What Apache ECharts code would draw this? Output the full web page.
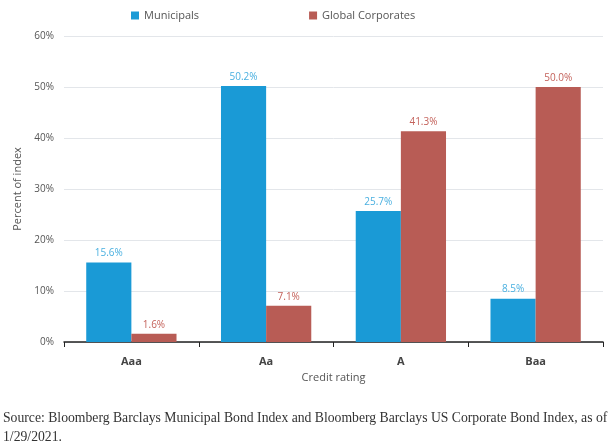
<!DOCTYPE html>
<html>
<head>
<meta charset="utf-8" />
<script src="https://cdn.jsdelivr.net/npm/echarts@6/dist/echarts.min.js"></script>
<style>
  html, body { margin: 0; padding: 0; background: #fff; }
  #main { width: 611px; height: 448px; }
</style>
</head>
<body>
<div id="main"></div>
<script type="text/javascript">
	// categories and values
	var ratings = ['Aaa', 'Aa', 'A', 'Baa'];
	var municipals = [15.6, 50.2, 25.7, 8.5];
	var corporates = [1.6, 7.1, 41.3, 50.0];
	var yTicks = [0, 10, 20, 30, 40, 50, 60];

	var blue = '#1a9ad6';
	var red = '#b85c55';

	var myChart = echarts.init(document.getElementById('main'));

	var option = {
		animation: false,
		textStyle: { fontFamily: 'Open Sans, sans-serif' },
		legend: {
			top: 5,
			left: 126,
			itemGap: 110,
			itemWidth: 8,
			itemHeight: 8,
			icon: 'rect',
			textStyle: { color: '#555', fontSize: 11 },
			data: ['Municipals', 'Global Corporates']
		},
		grid: { left: 64, right: 8, top: 36, bottom: 106 },
		xAxis: {
			type: 'category',
			data: ratings,
			name: 'Credit rating',
			nameLocation: 'middle',
			nameGap: 30,
			nameTextStyle: { color: '#555', fontSize: 11 },
			axisLine: { lineStyle: { color: '#222', width: 1.5 } },
			axisTick: { show: true, length: 5, lineStyle: { color: '#222' } },
			axisLabel: { color: '#444', fontWeight: 'bold', fontSize: 11, margin: 14 }
		},
		yAxis: {
			type: 'value',
			min: yTicks[0],
			max: yTicks[yTicks.length - 1],
			interval: 10,
			name: 'Percent of index',
			nameLocation: 'middle',
			nameGap: 38,
			nameTextStyle: { color: '#555', fontSize: 11 },
			axisLine: { show: false },
			axisTick: { show: false },
			axisLabel: { color: '#555', fontSize: 10, formatter: '{value}%', margin: 10 },
			splitLine: { lineStyle: { color: '#e3e6ea' } }
		},
		series: [{
			name: 'Municipals',
			type: 'bar',
			data: municipals,
			itemStyle: { color: blue },
			barGap: '0%',
			barCategoryGap: '33%',
			label: { show: true, position: 'top', color: '#4ab0e0', fontSize: 10, distance: 4,
				formatter: function (p) { return p.value.toFixed(1) + '%'; } }
		}, {
			name: 'Global Corporates',
			type: 'bar',
			data: corporates,
			itemStyle: { color: red },
			label: { show: true, position: 'top', color: '#c4625b', fontSize: 10, distance: 4,
				formatter: function (p) { return p.value.toFixed(1) + '%'; } }
		}],
		graphic: [{
			type: 'text',
			left: 3,
			top: 409,
			style: {
				text: 'Source: Bloomberg Barclays Municipal Bond Index and Bloomberg Barclays US Corporate Bond Index, as of\n1/29/2021.',
				font: '13.7px "Liberation Serif", serif',
				fill: '#333',
				lineHeight: 19
			}
		}]
	};

	myChart.setOption(option);
</script>
</body>
</html>
